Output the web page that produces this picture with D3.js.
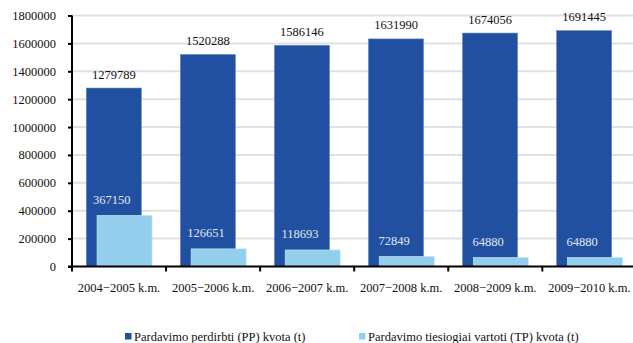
<!DOCTYPE html>
<html>
<head>
<meta charset="utf-8">
<script src="https://cdn.jsdelivr.net/npm/d3@7"></script>
<style>
  html, body { margin: 0; padding: 0; background: #fff; }
  svg { display: block; }
</style>
</head>
<body>
<svg id="chart" width="633" height="343"></svg>
<script>
// Sugar quota by marketing year
const seasons = ["2004\u22122005 k.m.", "2005\u22122006 k.m.", "2006\u22122007 k.m.",
                 "2007\u22122008 k.m.", "2008\u22122009 k.m.", "2009\u22122010 k.m."];
const processingQuota = [1279789, 1520288, 1586146, 1631990, 1674056, 1691445];
const directSalesQuota = [367150, 126651, 118693, 72849, 64880, 64880];
const yTicks = [0, 200000, 400000, 600000, 800000, 1000000, 1200000, 1400000, 1600000, 1800000];
const seriesNames = ["Pardavimo perdirbti (PP) kvota (t)", "Pardavimo tiesiogiai vartoti (TP) kvota (t)"];
const colors = ["#2150a1", "#93cfec"];

const FONT = "'Liberation Serif', 'Times New Roman', serif";
const svg = d3.select("#chart");
const plotLeft = 72, plotRight = 636.4, plotTop = 15.5, plotBottom = 266.5;

const x = d3.scaleBand().domain(seasons).range([plotLeft, plotRight]).padding(0);
const y = d3.scaleLinear().domain([0, 1800000]).range([plotBottom, plotTop]);
const bw = x.bandwidth();
const barW = bw * 0.585;
const darkOff = bw * 0.152;
const lightOff = bw * 0.266;

// horizontal gridlines
svg.append("g")
  .selectAll("line")
  .data(yTicks.filter(d => d > 0))
  .join("line")
  .attr("x1", plotLeft).attr("x2", 633)
  .attr("y1", d => y(d)).attr("y2", d => y(d))
  .attr("stroke", "#e1e1e1").attr("stroke-width", 2);

// PP bars
svg.append("g")
  .selectAll("rect")
  .data(processingQuota)
  .join("rect")
  .attr("x", (d, i) => x(seasons[i]) + darkOff)
  .attr("y", d => y(d))
  .attr("width", barW)
  .attr("height", d => y(0) - y(d))
  .attr("fill", colors[0])
  .attr("stroke", "#5f86c6").attr("stroke-width", 0.6);

// TP bars
svg.append("g")
  .selectAll("rect")
  .data(directSalesQuota)
  .join("rect")
  .attr("x", (d, i) => x(seasons[i]) + lightOff)
  .attr("y", d => y(d))
  .attr("width", barW)
  .attr("height", d => y(0) - y(d))
  .attr("fill", colors[1])
  .attr("stroke", "#c4e6f6").attr("stroke-width", 0.6);

// value labels
svg.append("g")
  .selectAll("text")
  .data(processingQuota)
  .join("text")
  .attr("x", (d, i) => x(seasons[i]) + darkOff + barW / 2)
  .attr("y", d => y(d) - 9.5)
  .attr("text-anchor", "middle")
  .attr("font-size", 12.5)
  .attr("fill", "#111")
  .text(d => d);

svg.append("g")
  .selectAll("text")
  .data(directSalesQuota)
  .join("text")
  .attr("x", (d, i) => x(seasons[i]) + darkOff + barW / 2 - 2)
  .attr("y", d => y(d) - 11.5)
  .attr("text-anchor", "middle")
  .attr("font-size", 12.5)
  .attr("fill", "#e4e6f0")
  .text(d => d);

// y axis
const yAxis = svg.append("g")
  .attr("transform", `translate(${plotLeft},0)`)
  .call(d3.axisLeft(y).tickValues(yTicks).tickSize(4).tickPadding(12).tickFormat(d3.format("d")).tickSizeOuter(0));
yAxis.attr("font-family", FONT);
yAxis.select(".domain").attr("stroke", "#000").attr("stroke-width", 2)
  .attr("d", `M0,${plotTop}V${plotBottom}`);
yAxis.selectAll(".tick line").attr("stroke", "#000").attr("stroke-width", 2);
yAxis.selectAll("text").attr("font-size", 12.5).attr("fill", "#111");

// x axis: ticks at category boundaries
const xg = svg.append("g").attr("transform", `translate(0,${plotBottom})`);
xg.append("line").attr("x1", plotLeft - 4).attr("x2", 633).attr("y1", 0).attr("y2", 0)
  .attr("stroke", "#000").attr("stroke-width", 2);
xg.selectAll("line.bt")
  .data(seasons)
  .join("line").attr("class", "bt")
  .attr("x1", d => x(d)).attr("x2", d => x(d))
  .attr("y1", 0).attr("y2", 5)
  .attr("stroke", "#000").attr("stroke-width", 2);
xg.selectAll("text")
  .data(seasons)
  .join("text")
  .attr("x", d => x(d) + bw / 2)
  .attr("y", 25)
  .attr("text-anchor", "middle")
  .attr("font-size", 12.5)
  .attr("fill", "#111")
  .text(d => d);

// legend
const legendPos = [125, 359];
const lg = svg.append("g");
seriesNames.forEach((name, i) => {
  lg.append("rect").attr("x", legendPos[i]).attr("y", 333).attr("width", 6.5).attr("height", 6.5)
    .attr("fill", colors[i]);
  lg.append("text").attr("x", legendPos[i] + 9).attr("y", 340.5)
    .attr("font-size", 12.5).attr("fill", "#111").text(name);
});

svg.selectAll("text").attr("font-family", FONT);
</script>
</body>
</html>
